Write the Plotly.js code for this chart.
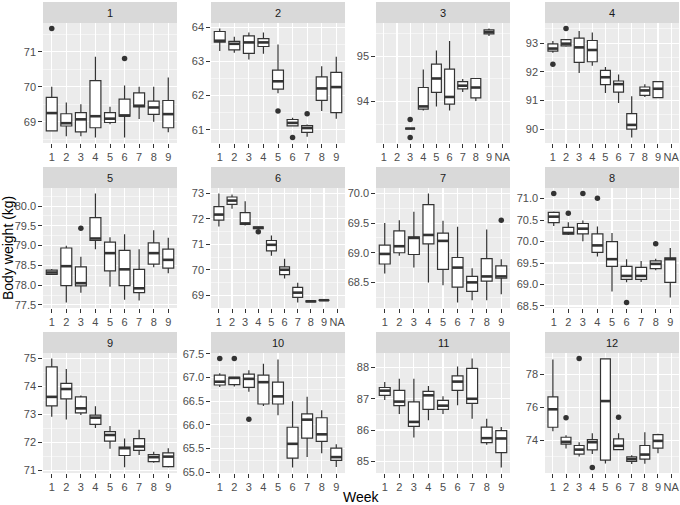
<!DOCTYPE html>
<html>
<head>
<meta charset="utf-8">
<script src="https://cdn.plot.ly/plotly-3.0.1.min.js"></script>
<style>html,body{margin:0;padding:0;background:#fff;}#chart{width:680px;height:505px;}</style>
</head>
<body>
<div id="chart"></div>
<script>
// Facet labels (animal id) and week categories per facet
const panelLabels = ["1","2","3","4","5","6","7","8","9","10","11","12"];
const W9 = ["1","2","3","4","5","6","7","8","9"];
const W10 = ["1","2","3","4","5","6","7","8","9","NA"];
const weeks = [W9, W9, W10, W10, W9, W10, W9, W9, W9, W9, W9, W10];

// Box statistics per facet (null = no data for that week)
const lowerFence = [
  [68.74,68.59,68.59,68.55,68.93,68.55,69.08,69.00,68.70],
  [63.31,63.26,63.06,63.23,62.07,61.11,60.79,61.55,61.32],
  [null,null,93.40,93.80,93.89,93.80,94.21,94.01,95.45,null],
  [92.66,92.87,91.96,92.21,91.26,90.91,89.71,91.12,91.10,null],
  [78.26,77.56,77.81,78.91,77.96,77.63,77.61,78.45,78.30],
  [71.70,72.40,71.74,71.62,70.55,69.66,68.71,68.74,68.79,null],
  [68.65,68.95,68.75,68.50,68.45,68.16,68.20,68.20,68.30],
  [70.36,70.15,70.01,69.65,68.84,69.05,69.06,69.33,68.70],
  [72.92,72.82,72.98,72.52,71.78,71.12,71.56,71.28,71.11],
  [66.80,66.81,66.70,66.40,66.20,65.10,65.32,65.40,65.11],
  [86.96,86.51,85.76,86.31,86.51,86.79,86.36,85.53,84.80],
  [74.55,73.49,73.01,73.17,72.59,73.43,72.55,72.57,73.21,null]
];
const q1 = [
  [68.74,68.88,68.71,68.83,68.98,69.16,69.43,69.21,68.83],
  [63.57,63.34,63.24,63.44,62.19,61.11,60.92,61.86,61.50],
  [null,null,93.40,93.83,94.20,93.94,94.28,94.08,95.50,null],
  [92.72,92.90,92.33,92.35,91.55,91.29,90.00,91.18,91.10,null],
  [78.27,77.99,77.98,79.13,78.36,77.99,77.81,78.53,78.43],
  [71.95,72.57,71.78,71.62,70.74,69.81,68.91,68.74,68.79,null],
  [68.81,69.00,68.97,69.15,68.72,68.42,68.35,68.52,68.57],
  [70.44,70.17,70.18,69.75,69.42,69.12,69.12,69.37,69.05],
  [73.31,73.56,73.06,72.65,72.05,71.54,71.72,71.32,71.14],
  [66.84,66.85,66.79,66.44,66.44,65.30,65.72,65.65,65.25],
  [87.11,86.78,86.12,86.66,86.66,87.27,86.85,85.60,85.28],
  [74.79,73.76,73.15,73.41,72.79,73.43,72.71,72.85,73.52,null]
];
const median = [
  [69.25,68.96,69.07,69.16,69.09,69.18,69.46,69.41,69.22],
  [63.61,63.52,63.56,63.56,62.42,61.20,61.05,62.21,62.25],
  [null,null,93.40,93.89,94.51,94.10,94.35,94.31,95.54,null],
  [92.81,92.98,92.85,92.76,91.81,91.57,90.15,91.35,91.41,null],
  [78.32,78.48,78.05,79.18,78.81,78.40,77.92,78.81,78.64],
  [72.17,72.72,71.82,71.65,70.98,70.00,69.10,68.76,68.80,null],
  [68.98,69.11,69.25,69.30,69.20,68.75,68.50,68.60,68.60],
  [70.58,70.20,70.30,69.91,69.59,69.20,69.20,69.48,69.59],
  [73.63,73.91,73.22,72.89,72.27,71.80,71.86,71.48,71.50],
  [66.91,66.99,66.97,66.90,66.60,65.60,66.11,65.80,65.32],
  [87.26,86.91,86.26,87.11,86.78,87.55,87.00,85.74,85.73],
  [75.88,73.90,73.43,73.88,76.38,73.66,72.85,73.13,73.96,null]
];
const q3 = [
  [69.70,69.23,69.26,70.18,69.26,69.65,69.83,69.59,69.61],
  [63.88,63.59,63.75,63.67,62.75,61.30,61.12,62.55,62.68],
  [null,null,93.40,94.31,94.83,94.72,94.44,94.51,95.59,null],
  [92.97,93.12,93.17,93.09,92.05,91.68,90.54,91.47,91.66,null],
  [78.38,78.94,78.46,79.71,79.09,78.88,78.40,79.07,78.91],
  [72.48,72.86,72.25,71.69,71.15,70.11,69.31,68.78,68.81,null],
  [69.13,69.37,69.27,69.81,69.33,68.92,68.60,68.90,68.78],
  [70.68,70.33,70.42,70.18,70.00,69.42,69.40,69.55,69.62],
  [74.70,74.11,73.63,72.98,72.39,71.84,72.14,71.57,71.63],
  [67.05,67.00,67.07,67.05,66.90,65.95,66.23,66.15,65.51],
  [87.36,87.27,86.90,87.24,86.95,87.73,87.97,86.09,85.98],
  [76.63,74.18,73.68,74.04,78.95,74.08,72.99,73.68,74.34,null]
];
const upperFence = [
  [70.00,69.55,69.50,70.86,69.43,70.04,70.00,70.00,70.27],
  [63.97,63.73,63.85,63.85,63.50,61.35,61.15,62.86,63.14],
  [null,null,93.40,94.71,95.13,95.34,94.50,94.51,95.62,null],
  [93.07,93.14,93.42,93.37,92.17,91.91,91.15,91.57,91.66,null],
  [78.41,79.00,78.72,80.32,79.21,79.29,78.91,79.39,79.20],
  [73.00,72.96,72.69,71.69,71.35,70.43,69.49,68.78,68.81,null],
  [69.50,69.55,69.69,70.00,69.54,69.44,68.74,69.39,68.89],
  [70.70,70.45,70.49,70.35,70.20,69.59,69.55,69.60,69.85],
  [75.00,74.62,73.68,73.30,72.59,72.15,72.46,71.67,71.80],
  [67.09,67.00,67.15,67.29,67.38,66.50,66.59,66.31,65.59],
  [87.54,87.64,87.64,87.41,87.08,88.03,88.29,86.36,86.10],
  [78.91,74.30,73.88,74.42,78.95,74.42,73.09,74.48,74.40,null]
];
// Outliers: week label and value, per facet
const outlierWeek = [
  ["1","6"], ["5","6","7"], ["3","3"], ["1","2"], ["3"], ["4"], ["9"],
  ["1","2","3","4","6","8"], [], ["1","2","3"], [], ["2","3","4","6"]
];
const outlierValue = [
  [71.67,70.81], [61.55,60.77,61.47], [93.60,93.20], [92.26,93.51], [79.44], [71.49], [69.55],
  [71.12,70.66,71.12,71.01,68.58,69.95], [], [67.40,67.40,66.12], [], [75.37,78.97,72.34,75.39]
];
// y tick step per facet
const yStep = [1,1,1,1,0.5,1,0.5,0.5,1,0.5,1,2];

const W = 680, H = 505;
const colX0 = [43, 211, 376, 545], colW = 134;
const rowTop = [23, 188, 353], rowH = 120, stripH = 21;
const FONT = "Liberation Sans, Arial, sans-serif";
const INK = "#333333";
const BOXW = 0.75;
const TICKFONT = {family: FONT, size: 11, color: "#4D4D4D"};

const data = [], layout = {
  width: W, height: H,
  margin: {l:0, r:0, t:0, b:0},
  paper_bgcolor: "#ffffff",
  plot_bgcolor: "#EBEBEB",
  showlegend: false,
  font: {family: FONT, size: 11, color: "#4D4D4D"},
  shapes: [], annotations: []
};

for (let k = 0; k < 12; k++) {
  const c = k % 4, r = Math.floor(k / 4);
  const sfx = k === 0 ? "" : String(k + 1);
  const xa = "x" + sfx, ya = "y" + sfx;
  const wk = weeks[k];
  const n = wk.length;
  const pos = [], lo = [], a = [], m = [], b = [], hi = [];
  for (let i = 0; i < n; i++) {
    if (median[k][i] === null || median[k][i] === undefined) continue;
    pos.push(i + 1); lo.push(lowerFence[k][i]); a.push(q1[k][i]);
    m.push(median[k][i]); b.push(q3[k][i]); hi.push(upperFence[k][i]);
  }
  data.push({
    type: "box", xaxis: xa, yaxis: ya,
    x: pos, q1: a, median: m, q3: b, lowerfence: lo, upperfence: hi,
    width: BOXW, whiskerwidth: 0, boxpoints: false,
    fillcolor: "#ffffff", line: {color: INK, width: 1.2},
    hoverinfo: "skip"
  });
  // thick median segments
  const mx = [], my = [];
  for (let i = 0; i < pos.length; i++) {
    mx.push(pos[i] - BOXW / 2, pos[i] + BOXW / 2, null);
    my.push(m[i], m[i], null);
  }
  data.push({type: "scatter", mode: "lines", xaxis: xa, yaxis: ya, x: mx, y: my,
    line: {color: INK, width: 2.6}, hoverinfo: "skip"});
  // outliers
  const ox = outlierWeek[k].map(w => wk.indexOf(w) + 1);
  data.push({type: "scatter", mode: "markers", xaxis: xa, yaxis: ya,
    x: ox, y: outlierValue[k], marker: {color: INK, size: 5.5}, hoverinfo: "skip"});

  // y range: ggplot 5% expansion
  const vals = lo.concat(hi, outlierValue[k]);
  const vmin = Math.min(...vals), vmax = Math.max(...vals);
  const pad = (vmax - vmin) * 0.05;

  const x0 = colX0[c], top = rowTop[r];
  layout["xaxis" + sfx] = {
    anchor: ya, domain: [x0 / W, (x0 + colW) / W],
    type: "linear", range: [0.4, n + 0.6],
    tickmode: "array", tickvals: wk.map((_, i) => i + 1), ticktext: wk, tickangle: 0,
    showgrid: true, gridcolor: "#ffffff", gridwidth: 1.1, zeroline: false, showline: false,
    ticks: "outside", ticklen: 3.7, tickwidth: 1, tickcolor: INK,
    tickfont: TICKFONT, automargin: false, fixedrange: true
  };
  const st = yStep[k];
  layout["yaxis" + sfx] = {
    anchor: xa, domain: [1 - (top + rowH) / H, 1 - top / H],
    range: [vmin - pad, vmax + pad],
    tickmode: "linear", tick0: 0, dtick: st, tickformat: st < 1 ? ".1f" : "d",
    showgrid: true, gridcolor: "#ffffff", gridwidth: 1.1, zeroline: false, showline: false,
    minor: {dtick: st / 2, tick0: 0, showgrid: true, gridcolor: "#ffffff", gridwidth: 0.5},
    ticks: "outside", ticklen: 3.7, tickwidth: 1, tickcolor: INK,
    tickfont: TICKFONT, automargin: false, fixedrange: true
  };
  // strip
  layout.shapes.push({type: "rect", xref: "paper", yref: "paper",
    x0: x0 / W, x1: (x0 + colW) / W, y0: 1 - top / H, y1: 1 - (top - stripH) / H,
    fillcolor: "#D9D9D9", line: {width: 0}});
  layout.annotations.push({xref: "paper", yref: "paper",
    x: (x0 + colW / 2) / W, y: 1 - (top - stripH / 2) / H, xanchor: "center", yanchor: "middle",
    text: panelLabels[k], showarrow: false, font: {family: FONT, size: 11, color: "#1A1A1A"}});
}
layout.annotations.push({xref: "paper", yref: "paper", x: 361 / W, y: 1 - 497 / H,
  xanchor: "center", yanchor: "middle", text: "Week", showarrow: false,
  font: {family: FONT, size: 14, color: "#000000"}});
layout.annotations.push({xref: "paper", yref: "paper", x: 8 / W, y: 1 - 248 / H,
  xanchor: "center", yanchor: "middle", text: "Body weight (kg)", textangle: -90, showarrow: false,
  font: {family: FONT, size: 14, color: "#000000"}});

Plotly.newPlot("chart", data, layout, {staticPlot: true, displayModeBar: false});
</script>
</body>
</html>
